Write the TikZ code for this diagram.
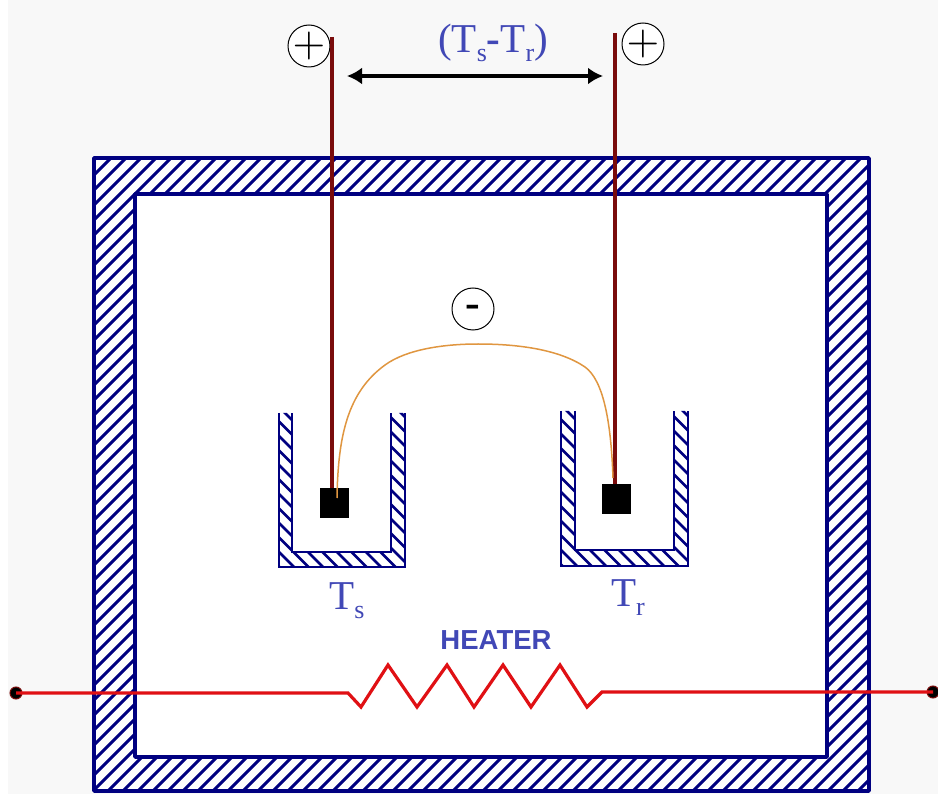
\documentclass[tikz,border=0pt]{standalone}
\usepackage{fontspec}
\usetikzlibrary{arrows.meta}
\setmainfont{Liberation Serif}
\newfontfamily\heatfont{Liberation Sans}
\definecolor{navyline}{HTML}{000080}
\definecolor{labelblue}{HTML}{4148B6}
\definecolor{wirered}{HTML}{E01014}
\definecolor{probe}{HTML}{7A0C0C}
\definecolor{bendwire}{HTML}{E09640}
\definecolor{page}{HTML}{F8F8F8}
\newcommand{\subtxt}[1]{\raisebox{-9pt}{\fontsize{26}{26}\selectfont #1}}
\tikzset{
  hatchline/.style={navyline,line width=3pt},
  outline/.style={navyline,line width=3.6pt,line join=round},
  thinoutline/.style={navyline,line width=2.2pt,line join=miter},
  sensor/.style={fill=black,draw=none,minimum width=29pt,minimum height=30pt,inner sep=0pt},
  polecirc/.style={circle,draw=black,line width=1pt,fill=white,minimum size=42pt,inner sep=0pt},
  polesign/.style={inner sep=0pt},
  probewire/.style={probe,line width=3.2pt},
  heatwire/.style={wirered,line width=3.2pt,line join=miter},
  terminal/.style={circle,fill=black,draw=probe,line width=1pt,minimum size=12pt,inner sep=0pt},
  lab/.style={text=labelblue,inner sep=0pt,font=\fontsize{41}{41}\selectfont},
}
\begin{document}
\begin{tikzpicture}[x=1pt,y=-1pt]
\useasboundingbox (0,0) rectangle (938,794);
\fill[page] (0,0) rectangle (938,794);
\fill[white] (0,0) rectangle (8,794);
% furnace wall
\fill[white] (94,158) rectangle (869,791);
\begin{scope}[even odd rule]
  \clip (94,158) rectangle (869,791) (135,194) rectangle (827,757);
  \foreach \k in {0,...,110} \draw[hatchline] (94+15*\k-700,800) -- ++(700,-700);
\end{scope}
\draw[outline] (94,158) rectangle (869,791);
\draw[outline] (135,194) rectangle (827,757);
% left crucible
\begin{scope}
  \clip (279,413) -- (279,567) -- (405,567) -- (405,413) -- (391,413) -- (391,552) -- (292,552) -- (292,413) -- cycle;
  \foreach \k in {0,...,25} \draw[hatchline,line width=2.8pt] (230+14.5*\k-190,400) -- ++(190,190);
\end{scope}
\draw[thinoutline] (279,413) -- (279,567) -- (405,567) -- (405,413);
\draw[thinoutline] (292,413) -- (292,552) -- (391,552) -- (391,413);
% right crucible
\begin{scope}
  \clip (561,411) -- (561,566) -- (688,566) -- (688,411) -- (674,411) -- (674,550) -- (575,550) -- (575,411) -- cycle;
  \foreach \k in {0,...,25} \draw[hatchline,line width=2.8pt] (512+14.5*\k-190,398) -- ++(190,190);
\end{scope}
\draw[thinoutline] (561,411) -- (561,566) -- (688,566) -- (688,411);
\draw[thinoutline] (575,411) -- (575,550) -- (674,550) -- (674,411);
% sensors
\node[sensor] (sensL) at (334.5,503) {};
\node[sensor] (sensR) at (616.5,499) {};
% polarity
\node[polecirc] (plusL) at (309,46) {};
\node[polecirc] (plusR) at (643,44) {};
\node[polesign] (plusLs) at (plusL.center) {\scalebox{4.2}{$+$}};
\node[polesign] (plusRs) at (plusR.center) {\scalebox{4.2}{$+$}};
\node[polecirc] (minus) at (473,309) {};
\node[polesign,anchor=base,font=\bfseries\fontsize{44}{44}\selectfont] (minuss) at (473,318) {-};
% wires
\coordinate (topL) at (332,37);
\coordinate (topR) at (615,33);
\coordinate (bendL) at (337,498);
\coordinate (bendR) at (613,478);
\draw[probewire] (topL) -- (topL |- sensL.north);
\draw[probewire] (topR) -- (topR |- sensR.north);
\draw[bendwire,line width=1.5pt] (bendL) .. controls (338,435) and (348,392) .. (385,365)
  .. controls (407,349) and (445,344) .. (478,344)
  .. controls (520,344) and (560,350) .. (585,367)
  .. controls (603,380) and (611,420) .. (bendR);
% difference arrow
\coordinate (arrL) at (347,76);
\coordinate (arrR) at (603,76);
\draw[black,line width=3.2pt,{Latex[length=15pt,width=17pt]}-{Latex[length=15pt,width=17pt]}] (arrL) -- (arrR);
% labels
\node[lab] (diff) at (493,43) {(T\subtxt{s}{\bfseries -}T\subtxt{r})};
\node[lab] (labTs) at (347,601) {T\subtxt{s}};
\node[lab] (labTr) at (628,598) {T\subtxt{r}};
\node[text=labelblue,inner sep=0pt,font=\heatfont\bfseries\fontsize{27.5}{27.5}\selectfont] (heat) at (496,640) {HEATER};
% heater
\node[terminal] (termL) at (16,693) {};
\node[terminal] (termR) at (933,692) {};
\draw[heatwire] (termL.center) -- (348,693) -- (361,707) -- (388,665) -- (417,707) -- (447,665)
  -- (474,707) -- (503,665) -- (531,707) -- (560,665) -- (587,707) -- (602,692) -- (termR.center);
\end{tikzpicture}
\end{document}
